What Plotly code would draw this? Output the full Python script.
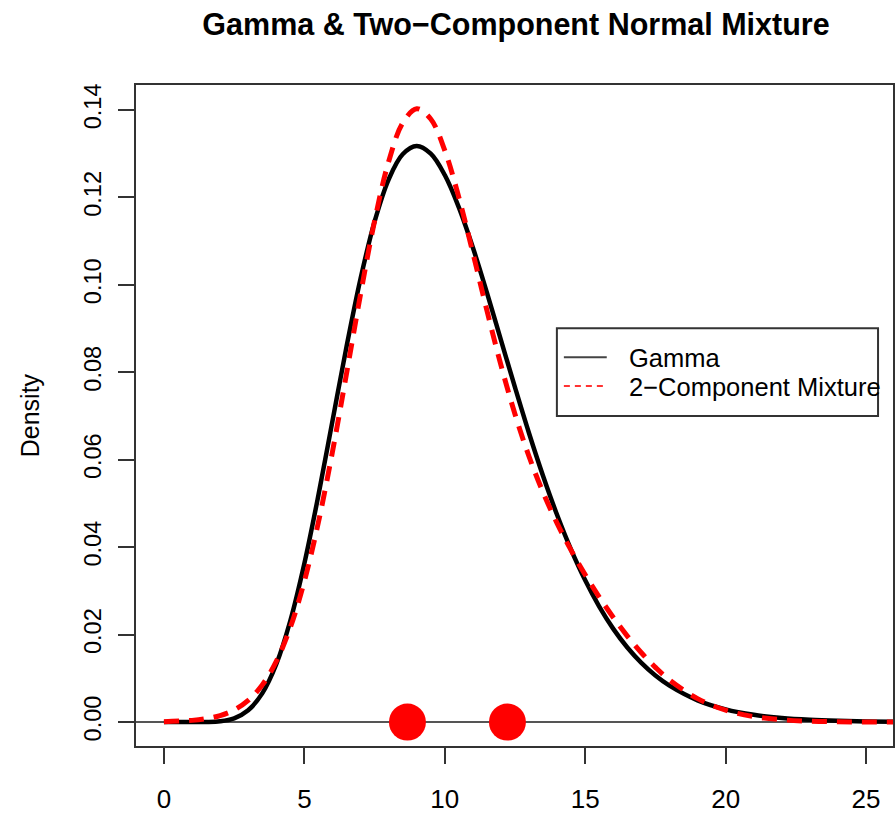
import plotly.graph_objects as go

# ---- data ----
x_vals = [0, 1, 1.5, 2, 2.5, 3, 3.5, 4, 4.5, 5, 5.5, 6, 6.5, 7, 7.5, 8, 8.5, 9, 9.5,
          10, 10.5, 11, 11.5, 12, 12.5, 13, 13.5, 14, 14.5, 15, 15.5, 16, 16.5, 17,
          17.5, 18, 19, 20, 21, 22, 23, 24, 25, 26]
gamma_density = [0.0, 0.000001, 0.000024, 0.00019, 0.00086, 0.0027, 0.00656, 0.01323,
                 0.02317, 0.03627, 0.05187, 0.06884, 0.08582, 0.1014, 0.11445, 0.12408,
                 0.12987, 0.13176, 0.13000, 0.12511, 0.11772, 0.10853, 0.09822, 0.08736,
                 0.07653, 0.06605, 0.05627, 0.04735, 0.03938, 0.03241, 0.0264, 0.02131,
                 0.01705, 0.01353, 0.01065, 0.00833, 0.00498, 0.00291, 0.00166, 0.00093,
                 0.00051, 0.000275, 0.000146, 0.000077]
mixture_density = [0.00009, 0.00039, 0.00077, 0.00149, 0.00277, 0.00495, 0.00848, 0.01386,
                   0.02164, 0.03221, 0.0457, 0.06179, 0.07963, 0.09781, 0.11459, 0.12816,
                   0.137, 0.14028, 0.13793, 0.13073, 0.12, 0.1073, 0.09414, 0.08163,
                   0.07041, 0.06074, 0.05252, 0.04545, 0.03926, 0.03369, 0.0286, 0.02393,
                   0.01967, 0.01585, 0.01251, 0.00965, 0.00536, 0.00272, 0.00125, 0.00053,
                   0.0002, 0.00007, 0.000022, 0.000006]
component_means = [8.67, 12.23]
component_base = [0, 0]
x_ticks = [0, 5, 10, 15, 20, 25]
y_ticks = [0.00, 0.02, 0.04, 0.06, 0.08, 0.10, 0.12, 0.14]
y_tick_text = ["0.00", "0.02", "0.04", "0.06", "0.08", "0.10", "0.12", "0.14"]
legend_labels = ["Gamma", "2\u2212Component Mixture"]
title_text = "Gamma &amp; Two\u2212Component Normal Mixture"

W, H = 895, 814
ML, MR, MT, MB = 136, 0, 85, 66
PW, PH = W - ML - MR, H - MT - MB
FONT = "Liberation Sans, Arial, sans-serif"


def px(xp):
    return (xp - ML) / PW


def py(yp):
    return (H - MB - yp) / PH


fig = go.Figure()

# horizontal zero line
fig.add_hline(y=0, line=dict(color="#555555", width=2), layer="below")

fig.add_trace(go.Scatter(x=x_vals, y=gamma_density, mode="lines",
                         line=dict(color="black", width=4.5, shape="spline", smoothing=1.0),
                         showlegend=False, hoverinfo="skip"))
fig.add_trace(go.Scatter(x=x_vals, y=mixture_density, mode="lines",
                         line=dict(color="#FF0000", width=5, dash="15px,10px",
                                   shape="spline", smoothing=1.0),
                         showlegend=False, hoverinfo="skip"))
fig.add_trace(go.Scatter(x=component_means, y=component_base, mode="markers",
                         marker=dict(color="#FF0000", size=37, line=dict(width=0)),
                         showlegend=False, hoverinfo="skip"))

# manual legend (R style)
lx0, lx1, ly0, ly1 = 558, 880, 329, 417
fig.add_shape(type="rect", xref="paper", yref="paper",
              x0=px(lx0), x1=px(lx1), y0=py(ly1), y1=py(ly0),
              line=dict(color="#333333", width=2), fillcolor="rgba(255,255,255,0)")
fig.add_shape(type="line", xref="paper", yref="paper",
              x0=px(565), x1=px(608), y0=py(358), y1=py(358),
              line=dict(color="#444444", width=2))
fig.add_shape(type="line", xref="paper", yref="paper",
              x0=px(565), x1=px(608), y0=py(387), y1=py(387),
              line=dict(color="#FF3333", width=2, dash="6px,5px"))
for lab, yy in zip(legend_labels, [359, 388]):
    fig.add_annotation(text=lab, xref="paper", yref="paper", x=px(628), y=py(yy),
                       xanchor="left", yanchor="middle", showarrow=False,
                       font=dict(family=FONT, size=25.5, color="black"))

# y axis title
fig.add_annotation(text="Density", xref="paper", yref="paper", x=px(30), y=py(416),
                   xanchor="center", yanchor="middle", textangle=-90, showarrow=False,
                   font=dict(family=FONT, size=25, color="black"))

x0_px, x_scale = 164, 28.16
y0_px, y_scale = 724, 4385.7
x_range = [(ML - x0_px) / x_scale, (W - MR - x0_px) / x_scale]
y_range = [(y0_px - (H - MB)) / y_scale, (y0_px - MT) / y_scale]

fig.update_layout(
    width=W, height=H,
    margin=dict(l=ML, r=MR, t=MT, b=MB, pad=0),
    paper_bgcolor="white", plot_bgcolor="white",
    title=dict(text="<b>" + title_text + "</b>", x=516 / W, xanchor="center",
               y=1 - 24 / H, yanchor="middle", yref="container",
               font=dict(family=FONT, size=30.5, color="black")),
    xaxis=dict(range=x_range, tickvals=x_ticks, ticktext=[str(t) for t in x_ticks],
               showgrid=False, zeroline=False, showline=True, mirror=True,
               linecolor="#333333", linewidth=2, ticks="outside", ticklen=16,
               tickwidth=2, tickcolor="#333333", ticklabelstandoff=13,
               tickfont=dict(family=FONT, size=26, color="black")),
    yaxis=dict(range=y_range, tickvals=y_ticks, ticktext=y_tick_text,
               showgrid=False, zeroline=False, showline=True, mirror=True,
               linecolor="#333333", linewidth=2, ticks="outside", ticklen=16,
               tickwidth=2, tickcolor="#333333", tickangle=-90, ticklabelstandoff=8,
               tickfont=dict(family=FONT, size=23.5, color="black")),
    font=dict(family=FONT),
)

fig.write_html("out.html")
